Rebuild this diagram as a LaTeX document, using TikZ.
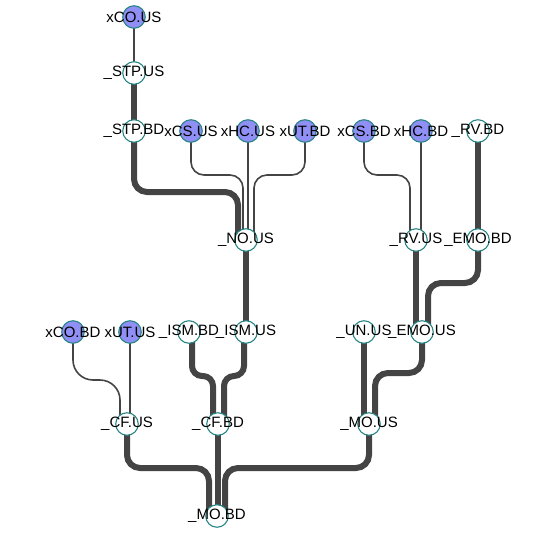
\documentclass[tikz,border=0pt]{standalone}
\usepackage{fontspec}
\setmainfont{Liberation Sans}
\begin{document}
\begin{tikzpicture}[x=1pt,y=-1pt,
  nd/.style={circle,draw=tealb,line width=1.1pt,minimum size=22.5pt,inner sep=0pt,fill=white},
  nx/.style={nd,fill=blueb},
  lbl/.style={font=\fontsize{15}{16}\selectfont,inner sep=0pt,text=black},
  thn/.style={draw=edgec,line width=1.6pt,rounded corners=13pt},
  thk/.style={draw=edgec,line width=6pt,rounded corners=13pt}]
\definecolor{tealb}{HTML}{2A8585}
\definecolor{blueb}{HTML}{8F8FF5}
\definecolor{edgec}{HTML}{444444}
\useasboundingbox (0,0) rectangle (540,532);
% node positions
\coordinate (pxcous) at (134,17);
\coordinate (pstpus) at (134,73);
\coordinate (pstpbd) at (134,131);
\coordinate (pxcsus) at (191,131);
\coordinate (pxhcus) at (248,131);
\coordinate (pxutbd) at (305,131);
\coordinate (pxcsbd) at (364,131);
\coordinate (pxhcbd) at (421,131);
\coordinate (prvbd) at (478,131);
\coordinate (pnous) at (246,240);
\coordinate (prvus) at (416,240);
\coordinate (pemobd) at (478,240);
\coordinate (pxcobd) at (73,332);
\coordinate (pxutus) at (130,332);
\coordinate (pismbd) at (189,332);
\coordinate (pismus) at (246,332);
\coordinate (punus) at (364,332);
\coordinate (pemous) at (422,332);
\coordinate (pcfus) at (127,424);
\coordinate (pcfbd) at (218,424);
\coordinate (pmous) at (369,424);
\coordinate (pmobd) at (217,516);
% edges
\draw[thn] (pxcous) -- (pstpus);
\draw[thk] (pstpus) -- (pstpbd);
\draw[thk] (pstpbd) -- ++(0,61) -| ([xshift=-8pt]pnous);
\draw[thn] (pxcsus) -- ++(0,44) -| ([xshift=-3pt]pnous);
\draw[thn] (pxhcus) -- (pxhcus |- pnous);
\draw[thn] (pxutbd) -- ++(0,44) -| ([xshift=8pt]pnous);
\draw[thk] (pnous) -- (pismus);
\draw[thn] (pxcsbd) -- ++(0,44) -| ([xshift=-6pt]prvus);
\draw[thn] (pxhcbd) -- ([xshift=5pt]prvus);
\draw[thk] (prvbd) -- (pemobd);
\draw[thk] (pemobd) -- ++(0,43) -| ([xshift=6pt]pemous);
\draw[thk] (prvus) -- (prvus |- pemous);
\draw[thk] (punus) -- (punus |- pmous);
\draw[thk] (pemous) -- ++(0,41) -| ([xshift=6pt]pmous);
\draw[thn,rounded corners=20pt] (pxcobd) -- ++(0,48) -| ([xshift=-7pt]pcfus);
\draw[thn] (pxutus) -- (pxutus |- pcfus);
\draw[thk,rounded corners=10pt] ([xshift=3pt]pismbd) -- ++(0,44) -| ([xshift=-5pt]pcfbd);
\draw[thk,rounded corners=10pt] ([xshift=-2pt]pismus) -- ++(0,44) -| ([xshift=6pt]pcfbd);
\draw[thk] (pcfus) -- ++(0,44) -| ([xshift=-8pt]pmobd);
\draw[thk] (pcfbd) -- (pcfbd |- pmobd);
\draw[thk] (pmous) -- ++(0,44) -| ([xshift=8pt]pmobd);
% nodes
\node[nx,label={[lbl]center:xCO.US}] (xcous) at (pxcous) {};
\node[nd,label={[lbl]center:\_STP.US}] (stpus) at (pstpus) {};
\node[nd,label={[lbl]center:\_STP.BD}] (stpbd) at (pstpbd) {};
\node[nx,label={[lbl]center:xCS.US}] (xcsus) at (pxcsus) {};
\node[nx,label={[lbl]center:xHC.US}] (xhcus) at (pxhcus) {};
\node[nx,label={[lbl]center:xUT.BD}] (xutbd) at (pxutbd) {};
\node[nx,label={[lbl]center:xCS.BD}] (xcsbd) at (pxcsbd) {};
\node[nx,label={[lbl]center:xHC.BD}] (xhcbd) at (pxhcbd) {};
\node[nd,label={[lbl]center:\_RV.BD}] (rvbd) at (prvbd) {};
\node[nd,label={[lbl]center:\_NO.US}] (nous) at (pnous) {};
\node[nd,label={[lbl]center:\_RV.US}] (rvus) at (prvus) {};
\node[nd,label={[lbl]center:\_EMO.BD}] (emobd) at (pemobd) {};
\node[nx,label={[lbl]center:xCO.BD}] (xcobd) at (pxcobd) {};
\node[nx,label={[lbl]center:xUT.US}] (xutus) at (pxutus) {};
\node[nd,label={[lbl]center:\_ISM.BD}] (ismbd) at (pismbd) {};
\node[nd,label={[lbl]center:\_ISM.US}] (ismus) at (pismus) {};
\node[nd,label={[lbl]center:\_UN.US}] (unus) at (punus) {};
\node[nd,label={[lbl]center:\_EMO.US}] (emous) at (pemous) {};
\node[nd,label={[lbl]center:\_CF.US}] (cfus) at (pcfus) {};
\node[nd,label={[lbl]center:\_CF.BD}] (cfbd) at (pcfbd) {};
\node[nd,label={[lbl]center:\_MO.US}] (mous) at (pmous) {};
\node[nd,label={[lbl]center:\_MO.BD}] (mobd) at (pmobd) {};
\end{tikzpicture}
\end{document}
